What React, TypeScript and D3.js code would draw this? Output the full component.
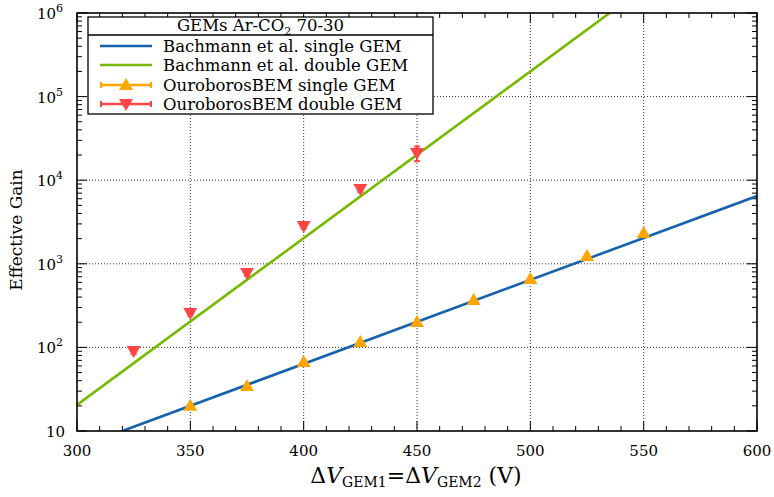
import React from "react";
import * as d3 from "d3";

// ---- data ----
const singleV = [350, 375, 400, 425, 450, 475, 500, 525, 550];
const singleGain = [20, 34.5, 67, 116, 201, 369, 658, 1240, 2330];
const doubleV = [325, 350, 375, 400, 425, 450];
const doubleGain = [90.6, 258, 776, 2830, 7850, 21100];
const doubleErr = [7, 18, 55, 200, 600, 4200];
const bachSingleV = [320, 600];
const bachSingleG = [10, 6470];
const bachDoubleV = [300, 535];
const bachDoubleG = [20.5, 1e6];
const xTicks = [300, 350, 400, 450, 500, 550, 600];
const yExps = [1, 2, 3, 4, 5, 6];
const legendLabels = [
  "Bachmann et al. single GEM",
  "Bachmann et al. double GEM",
  "OuroborosBEM single GEM",
  "OuroborosBEM double GEM",
];

const W = 774, H = 497;
const L = 77, R = 757, T = 13, B = 431;
const BLUE = "#1562ad", GREEN = "#77b800", ORANGE = "#ffa500", RED = "#ff4545";
const FONT = "DejaVu Serif";

export default function App() {
  const x = d3.scaleLinear().domain([300, 600]).range([L, R]);
  const y = d3.scaleLog().domain([10, 1e6]).range([B, T]);
  const line = d3.line<[number, number]>().x((d) => x(d[0])).y((d) => y(d[1]));
  const bs = bachSingleV.map((v, i) => [v, bachSingleG[i]] as [number, number]);
  const bd = bachDoubleV.map((v, i) => [v, bachDoubleG[i]] as [number, number]);

  const minorY: number[] = [];
  for (let e = 1; e < 6; e++) for (let k = 2; k <= 9; k++) minorY.push(k * Math.pow(10, e));
  const minorX = d3.range(310, 600, 10).filter((v) => v % 50 !== 0);

  const up = "M0,-7L7,5L-7,5Z";
  const down = "M0,7L7,-5L-7,-5Z";

  const lx0 = 88, lx1 = 433, ly0 = 17, ly1 = 114;
  const rows = [46, 65, 85, 104];

  return (
    <svg width={W} height={H} style={{ position: "absolute", left: 0, top: 0 }}>
      <rect width={W} height={H} fill="white" />
      <defs>
        <clipPath id="plot">
          <rect x={L} y={T} width={R - L} height={B - T} />
        </clipPath>
      </defs>
      {/* grid */}
      {xTicks.slice(1, -1).map((v) => (
        <line key={"gx" + v} x1={x(v)} x2={x(v)} y1={T} y2={B} stroke="#333" strokeWidth={1} strokeDasharray="1,2" />
      ))}
      {yExps.slice(1, -1).map((e) => (
        <line key={"gy" + e} x1={L} x2={R} y1={y(Math.pow(10, e))} y2={y(Math.pow(10, e))} stroke="#333" strokeWidth={1} strokeDasharray="1,2" />
      ))}
      {/* ticks */}
      {yExps.map((e) => (
        <g key={"ty" + e}>
          <line x1={L} x2={L + 10} y1={y(Math.pow(10, e))} y2={y(Math.pow(10, e))} stroke="black" />
          <line x1={R} x2={R - 10} y1={y(Math.pow(10, e))} y2={y(Math.pow(10, e))} stroke="black" />
        </g>
      ))}
      {minorY.map((v) => (
        <g key={"my" + v}>
          <line x1={L} x2={L + 5} y1={y(v)} y2={y(v)} stroke="black" />
          <line x1={R} x2={R - 5} y1={y(v)} y2={y(v)} stroke="black" />
        </g>
      ))}
      {xTicks.map((v) => (
        <g key={"tx" + v}>
          <line x1={x(v)} x2={x(v)} y1={B} y2={B - 10} stroke="black" />
          <line x1={x(v)} x2={x(v)} y1={T} y2={T + 10} stroke="black" />
        </g>
      ))}
      {minorX.map((v) => (
        <g key={"mx" + v}>
          <line x1={x(v)} x2={x(v)} y1={B} y2={B - 5} stroke="black" />
          <line x1={x(v)} x2={x(v)} y1={T} y2={T + 5} stroke="black" />
        </g>
      ))}
      {/* lines */}
      <g clipPath="url(#plot)">
        <path d={line(bs) || ""} fill="none" stroke={BLUE} strokeWidth={2.6} />
        <path d={line(bd) || ""} fill="none" stroke={GREEN} strokeWidth={2.6} />
      </g>
      {/* double GEM points */}
      {doubleV.map((v, i) => {
        const cx = x(v), cy = y(doubleGain[i]);
        const yt = y(doubleGain[i] + doubleErr[i]), yb = y(doubleGain[i] - doubleErr[i]);
        return (
          <g key={"d" + v}>
            <line x1={cx} x2={cx} y1={yt} y2={yb} stroke={RED} strokeWidth={2} />
            <line x1={cx - 3} x2={cx + 3} y1={yt} y2={yt} stroke={RED} strokeWidth={2} />
            <line x1={cx - 3} x2={cx + 3} y1={yb} y2={yb} stroke={RED} strokeWidth={2} />
            <path d={down} transform={`translate(${cx},${cy})`} fill={RED} />
          </g>
        );
      })}
      {singleV.map((v, i) => (
        <path key={"s" + v} d={up} transform={`translate(${x(v)},${y(singleGain[i])})`} fill={ORANGE} />
      ))}
      {/* frame */}
      <rect x={L} y={T} width={R - L} height={B - T} fill="none" stroke="black" strokeWidth={1.6} />
      {/* tick labels */}
      {xTicks.map((v) => (
        <text key={"lx" + v} x={x(v)} y={456} textAnchor="middle" fontFamily={FONT} fontSize={15}>
          {v}
        </text>
      ))}
      {yExps.map((e) => (
        <text key={"ly" + e} x={e === 1 ? 65 : 63} y={y(Math.pow(10, e)) + 6} textAnchor="end" fontFamily={FONT} fontSize={15}>
          10
          {e > 1 && (
            <tspan dy={-7} fontSize={11}>
              {e}
            </tspan>
          )}
        </text>
      ))}
      {/* axis titles */}
      <text x={416} y={483} textAnchor="middle" fontFamily={FONT} fontSize={22}>
        Δ<tspan fontStyle="italic">V</tspan>
        <tspan fontSize={14} dy={4}>GEM1</tspan>
        <tspan dy={-4}>=Δ</tspan>
        <tspan fontStyle="italic">V</tspan>
        <tspan fontSize={14} dy={4}>GEM2</tspan>
        <tspan dy={-4}> (V)</tspan>
      </text>
      <text transform="translate(22,230) rotate(-90)" textAnchor="middle" fontFamily={FONT} fontSize={17}>
        Effective Gain
      </text>
      {/* legend */}
      <rect x={lx0} y={ly0} width={lx1 - lx0} height={ly1 - ly0} fill="white" stroke="black" strokeWidth={1.3} />
      <line x1={lx0} x2={lx1} y1={35} y2={35} stroke="black" strokeWidth={1.3} />
      <text x={(lx0 + lx1) / 2} y={31} textAnchor="middle" fontFamily={FONT} fontSize={16.5}>
        GEMs Ar-CO
        <tspan fontSize={11} dy={4}>2</tspan>
        <tspan dy={-4}> 70-30</tspan>
      </text>
      {legendLabels.map((lab, i) => {
        const ry = rows[i];
        const col = [BLUE, GREEN, ORANGE, RED][i];
        return (
          <g key={lab}>
            <line x1={100} x2={152} y1={ry} y2={ry} stroke={col} strokeWidth={2.6} />
            {i >= 2 && (
              <>
                <line x1={101} x2={101} y1={ry - 3} y2={ry + 3} stroke={col} strokeWidth={2} />
                <line x1={151} x2={151} y1={ry - 3} y2={ry + 3} stroke={col} strokeWidth={2} />
                <path d={i === 2 ? up : down} transform={`translate(126,${ry})`} fill={col} />
              </>
            )}
            <text x={163} y={ry + 6} fontFamily={FONT} fontSize={16.5}>
              {lab}
            </text>
          </g>
        );
      })}
    </svg>
  );
}
